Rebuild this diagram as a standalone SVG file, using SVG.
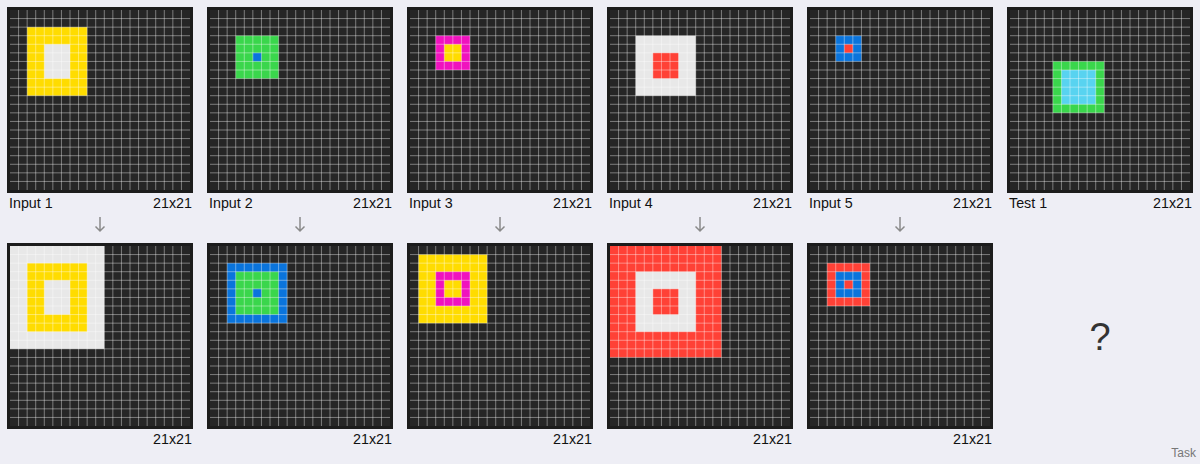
<svg xmlns="http://www.w3.org/2000/svg" xmlns:xlink="http://www.w3.org/1999/xlink" width="1200" height="464" viewBox="0 0 1200 464">
<style>
.bg{fill:#eeeef5}
.frame{fill:#1c1c1c}
.cellbg{fill:#262626}
.gl{fill:none;stroke:#ffffff;stroke-opacity:0.4;stroke-width:1}
.lbl{font-family:"Liberation Sans",Arial,sans-serif;font-size:14.3px;fill:#111}
.dim{font-family:"Liberation Sans",Arial,sans-serif;font-size:14.3px;fill:#111;text-anchor:end}
.arr{fill:none;stroke:#8a8a8a;stroke-width:1.5}
.c1{fill:#0a74dc}.c2{fill:#ff4136}.c3{fill:#3ad64c}.c4{fill:#ffdc00}.c5{fill:#e8e8e8}.c6{fill:#f012be}.c8{fill:#58d3f0}
</style>
<defs>
<g id="panel">
<rect class="frame" x="-3" y="-3" width="186" height="186"/>
<rect class="cellbg" x="0" y="0" width="180" height="180"/>
</g>
<path id="lines" class="gl" d="M8.571 0V180M17.143 0V180M25.714 0V180M34.286 0V180M42.857 0V180M51.429 0V180M60 0V180M68.571 0V180M77.143 0V180M85.714 0V180M94.286 0V180M102.857 0V180M111.429 0V180M120 0V180M128.571 0V180M137.143 0V180M145.714 0V180M154.286 0V180M162.857 0V180M171.429 0V180M0 8.571H180M0 17.143H180M0 25.714H180M0 34.286H180M0 42.857H180M0 51.429H180M0 60H180M0 68.571H180M0 77.143H180M0 85.714H180M0 94.286H180M0 102.857H180M0 111.429H180M0 120H180M0 128.571H180M0 137.143H180M0 145.714H180M0 154.286H180M0 162.857H180M0 171.429H180"/>
<path id="arrow" class="arr" d="M0 0V14M-4.5 9.5L0 14L4.5 9.5"/>
</defs>
<rect class="bg" x="0" y="0" width="1200" height="464"/>

<g id="input1" transform="translate(10,10)">
<use href="#panel"/>
<g transform="scale(8.5714)"><rect class="c4" x="2" y="2" width="7" height="8"/><rect class="c5" x="4" y="4" width="3" height="4"/></g>
<use href="#lines"/>
<text class="lbl" x="-1" y="198.3">Input 1</text><text class="dim" x="182" y="198.3">21x21</text>
</g>
<g id="input2" transform="translate(210,10)">
<use href="#panel"/>
<g transform="scale(8.5714)"><rect class="c3" x="3" y="3" width="5" height="5"/><rect class="c1" x="5" y="5" width="1" height="1"/></g>
<use href="#lines"/>
<text class="lbl" x="-1" y="198.3">Input 2</text><text class="dim" x="182" y="198.3">21x21</text>
</g>
<g id="input3" transform="translate(410,10)">
<use href="#panel"/>
<g transform="scale(8.5714)"><rect class="c6" x="3" y="3" width="4" height="4"/><rect class="c4" x="4" y="4" width="2" height="2"/></g>
<use href="#lines"/>
<text class="lbl" x="-1" y="198.3">Input 3</text><text class="dim" x="182" y="198.3">21x21</text>
</g>
<g id="input4" transform="translate(610,10)">
<use href="#panel"/>
<g transform="scale(8.5714)"><rect class="c5" x="3" y="3" width="7" height="7"/><rect class="c2" x="5" y="5" width="3" height="3"/></g>
<use href="#lines"/>
<text class="lbl" x="-1" y="198.3">Input 4</text><text class="dim" x="182" y="198.3">21x21</text>
</g>
<g id="input5" transform="translate(810,10)">
<use href="#panel"/>
<g transform="scale(8.5714)"><rect class="c1" x="3" y="3" width="3" height="3"/><rect class="c2" x="4" y="4" width="1" height="1"/></g>
<use href="#lines"/>
<text class="lbl" x="-1" y="198.3">Input 5</text><text class="dim" x="182" y="198.3">21x21</text>
</g>
<g id="test1" transform="translate(1010,10)">
<use href="#panel"/>
<g transform="scale(8.5714)"><rect class="c3" x="5" y="6" width="6" height="6"/><rect class="c8" x="6" y="7" width="4" height="4"/></g>
<use href="#lines"/>
<text class="lbl" x="-1" y="198.3">Test 1</text><text class="dim" x="182" y="198.3">21x21</text>
</g>

<g id="output1" transform="translate(10,246)">
<use href="#panel"/>
<g transform="scale(8.5714)"><rect class="c5" x="0" y="0" width="11" height="12"/><rect class="c4" x="2" y="2" width="7" height="8"/><rect class="c5" x="4" y="4" width="3" height="4"/></g>
<use href="#lines"/>
<text class="dim" x="182" y="198.3">21x21</text>
</g>
<g id="output2" transform="translate(210,246)">
<use href="#panel"/>
<g transform="scale(8.5714)"><rect class="c1" x="2" y="2" width="7" height="7"/><rect class="c3" x="3" y="3" width="5" height="5"/><rect class="c1" x="5" y="5" width="1" height="1"/></g>
<use href="#lines"/>
<text class="dim" x="182" y="198.3">21x21</text>
</g>
<g id="output3" transform="translate(410,246)">
<use href="#panel"/>
<g transform="scale(8.5714)"><rect class="c4" x="1" y="1" width="8" height="8"/><rect class="c6" x="3" y="3" width="4" height="4"/><rect class="c4" x="4" y="4" width="2" height="2"/></g>
<use href="#lines"/>
<text class="dim" x="182" y="198.3">21x21</text>
</g>
<g id="output4" transform="translate(610,246)">
<use href="#panel"/>
<g transform="scale(8.5714)"><rect class="c2" x="0" y="0" width="13" height="13"/><rect class="c5" x="3" y="3" width="7" height="7"/><rect class="c2" x="5" y="5" width="3" height="3"/></g>
<use href="#lines"/>
<text class="dim" x="182" y="198.3">21x21</text>
</g>
<g id="output5" transform="translate(810,246)">
<use href="#panel"/>
<g transform="scale(8.5714)"><rect class="c2" x="2" y="2" width="5" height="5"/><rect class="c1" x="3" y="3" width="3" height="3"/><rect class="c2" x="4" y="4" width="1" height="1"/></g>
<use href="#lines"/>
<text class="dim" x="182" y="198.3">21x21</text>
</g>
<g id="test1-output">
<text x="1100" y="350" text-anchor="middle" font-family="Liberation Sans, Arial, sans-serif" font-size="38" fill="#333">?</text>
</g>

<g id="connectors">
<use href="#arrow" x="100" y="217"/>
<use href="#arrow" x="300" y="217"/>
<use href="#arrow" x="500" y="217"/>
<use href="#arrow" x="700" y="217"/>
<use href="#arrow" x="900" y="217"/>
</g>
<text x="1196" y="457" text-anchor="end" font-family="Liberation Sans, Arial, sans-serif" font-size="12" fill="#777">Task</text>
</svg>
